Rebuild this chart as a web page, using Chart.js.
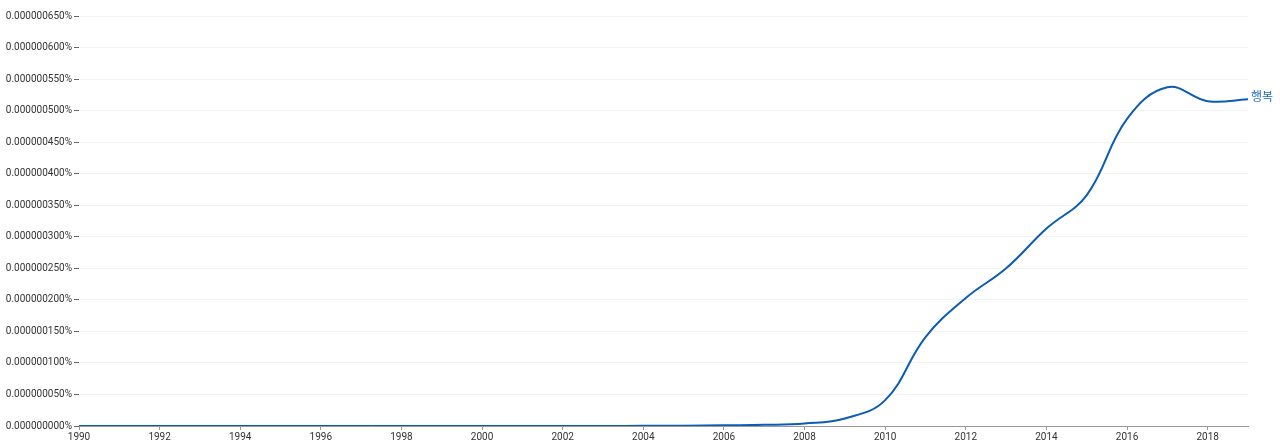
<!DOCTYPE html>
<html>
<head>
<meta charset="utf-8">
<script src="https://cdn.jsdelivr.net/npm/chart.js@4"></script>
<style>
  body { margin: 0; background: #fff; }
  #wrap { width: 1280px; height: 447px; position: relative; }
</style>
</head>
<body>
<div id="wrap"><canvas id="chart"></canvas></div>
<script>
// years on the x axis
const years = [1990, 1991, 1992, 1993, 1994, 1995, 1996, 1997, 1998, 1999,
  2000, 2001, 2002, 2003, 2004, 2005, 2006, 2007, 2008, 2009,
  2010, 2011, 2012, 2013, 2014, 2015, 2016, 2017, 2018, 2019];
// frequency of 행복 (in percent)
const happiness = [0, 0, 0, 0, 0, 0, 0, 0, 0, 0,
  0, 0, 0, 0, 0.0000000002, 0.0000000005, 0.0000000012, 0.0000000018, 0.000000004, 0.000000012,
  0.000000041, 0.000000141, 0.000000203, 0.000000250, 0.000000313, 0.000000366, 0.000000487, 0.000000537, 0.000000515, 0.000000518];
const seriesLabel = '행복';
const xTickValues = [1990, 1992, 1994, 1996, 1998, 2000, 2002, 2004, 2006, 2008,
  2010, 2012, 2014, 2016, 2018];
const yTickValues = [0, 0.00000005, 0.0000001, 0.00000015, 0.0000002, 0.00000025, 0.0000003,
  0.00000035, 0.0000004, 0.00000045, 0.0000005, 0.00000055, 0.0000006, 0.00000065];

const lineColor = '#0b5cb2';

// draw the series name after the last point
const endLabel = {
  id: 'endLabel',
  afterDatasetsDraw(chart) {
    const meta = chart.getDatasetMeta(0);
    const last = meta.data[meta.data.length - 1];
    const ctx = chart.ctx;
    ctx.save();
    ctx.font = '12px Roboto, "Noto Sans CJK KR", sans-serif';
    ctx.fillStyle = '#1d6bc0';
    ctx.textBaseline = 'middle';
    ctx.fillText(seriesLabel, last.x + 3, last.y - 1);
    ctx.restore();
  }
};

new Chart(document.getElementById('chart'), {
  type: 'line',
  data: {
    datasets: [{
      label: seriesLabel,
      data: years.map((y, i) => ({ x: y, y: happiness[i] })),
      borderColor: lineColor,
      borderWidth: 2,
      pointRadius: 0,
      tension: 0.4,
      fill: false
    }]
  },
  options: {
    responsive: true,
    maintainAspectRatio: false,
    animation: false,
    layout: { padding: { top: 16, right: 32, left: 0, bottom: 0 } },
    plugins: { legend: { display: false }, tooltip: { enabled: false } },
    scales: {
      x: {
        type: 'linear',
        min: 1990,
        max: 2019,
        afterBuildTicks: s => { s.ticks = xTickValues.map(v => ({ value: v })); },
        ticks: {
          color: '#333',
          font: { family: 'Roboto', size: 10 },
          padding: 1,
          maxRotation: 0,
          autoSkip: false,
          callback: v => String(v)
        },
        grid: { drawOnChartArea: false, drawTicks: true, tickLength: 4, tickColor: '#999' },
        border: { color: '#999', width: 1 },
        afterFit: s => { s.height = 21; }
      },
      y: {
        min: 0,
        max: 0.00000065,
        afterBuildTicks: s => { s.ticks = yTickValues.map(v => ({ value: v })); },
        ticks: {
          color: '#333',
          font: { family: 'Roboto', size: 10 },
          padding: 2,
          autoSkip: false,
          callback: v => v.toFixed(9) + '%'
        },
        grid: { color: '#f4f4f4', tickColor: '#666', tickLength: 5, lineWidth: 1 },
        border: { display: false },
        afterFit: s => { s.width = 79; }
      }
    }
  },
  plugins: [endLabel]
});
</script>
</body>
</html>
